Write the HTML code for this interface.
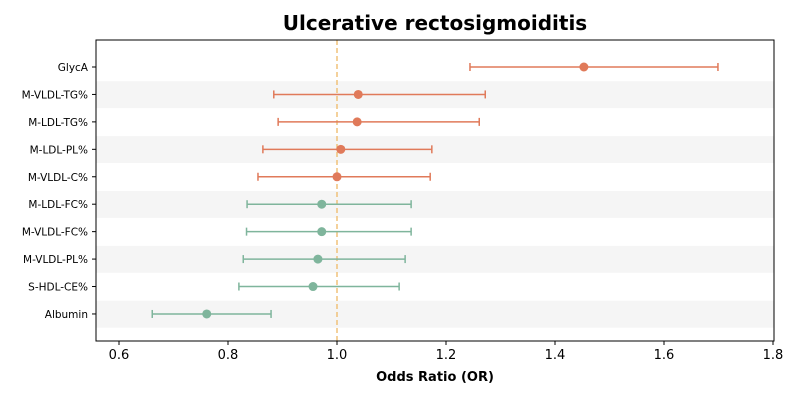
<!DOCTYPE html>
<html><head><meta charset="utf-8"><style>
body{margin:0;background:#fff;width:800px;height:400px;overflow:hidden}
svg text{font-family:"DejaVu Sans","Liberation Sans",sans-serif}
</style></head><body>
<svg id="chart" width="800" height="400"></svg>
<script>
const labels=["GlycA","M-VLDL-TG%","M-LDL-TG%","M-LDL-PL%","M-VLDL-C%","M-LDL-FC%","M-VLDL-FC%","M-VLDL-PL%","S-HDL-CE%","Albumin"];
const orValues=[1.453,1.039,1.037,1.007,1.0,0.972,0.972,0.965,0.956,0.761];
const lowerCI=[1.244,0.884,0.892,0.864,0.855,0.835,0.834,0.828,0.820,0.661];
const upperCI=[1.699,1.272,1.261,1.174,1.171,1.136,1.136,1.125,1.114,0.879];
const xTicks=[0.6,0.8,1.0,1.2,1.4,1.6,1.8];
const NS="http://www.w3.org/2000/svg";
const svg=document.getElementById('chart');
const L=96,R=774,T=40,B=341;
const x=v=>119+(v-0.6)*545;
const step=27.44;
const y=i=>67+i*step;
function mk(t,a,p){const e=document.createElementNS(NS,t);for(const k in a)e.setAttribute(k,a[k]);(p||svg).appendChild(e);return e;}
labels.forEach((l,i)=>{if(i%2===1){const r=mk('rect',{x:L,y:y(i)-step/2+0.5,width:R-L,height:step-0.5,fill:'#f5f5f5'});

}});
const rl=mk('line',{x1:x(1),x2:x(1),y1:T,y2:B,stroke:'#f0c27a','stroke-width':1.5,'stroke-dasharray':'5,3'});


const fr=mk('rect',{x:L,y:T,width:R-L,height:B-T,fill:'none',stroke:'#000','stroke-width':1});


xTicks.forEach(t=>{mk('line',{x1:x(t),x2:x(t),y1:B,y2:B+4,stroke:'#000'});
const tx=mk('text',{x:x(t),y:B+18,'text-anchor':'middle','font-size':13,fill:'#000'});tx.textContent=t.toFixed(1);

});
labels.forEach((l,i)=>{
 const c=orValues[i]>=1?'#e07a5a':'#7fb59c';
 const yy=y(i);
 mk('line',{x1:L-4,x2:L,y1:yy,y2:yy,stroke:'#000'});
 const lt=mk('text',{x:L-8,y:yy+4,'text-anchor':'end','font-size':10.5,fill:'#000'});lt.textContent=l;
 
 
 const g=mk('g',{});
 
 
 mk('line',{x1:x(lowerCI[i]),x2:x(upperCI[i]),y1:yy,y2:yy,stroke:c,'stroke-width':1.5},g);
 mk('line',{x1:x(lowerCI[i]),x2:x(lowerCI[i]),y1:yy-4,y2:yy+4,stroke:c,'stroke-width':1.5},g);
 mk('line',{x1:x(upperCI[i]),x2:x(upperCI[i]),y1:yy-4,y2:yy+4,stroke:c,'stroke-width':1.5},g);
 const p=mk('circle',{cx:x(orValues[i]),cy:yy,r:4.5,fill:c});
 
 
});
const ti=mk('text',{x:435,y:30,'text-anchor':'middle','font-size':20,'font-weight':'bold',fill:'#000'});ti.textContent='Ulcerative rectosigmoiditis';


const xl=mk('text',{x:435,y:381,'text-anchor':'middle','font-size':13,'font-weight':'bold',fill:'#000'});xl.textContent='Odds Ratio (OR)';


</script>
</body></html>
